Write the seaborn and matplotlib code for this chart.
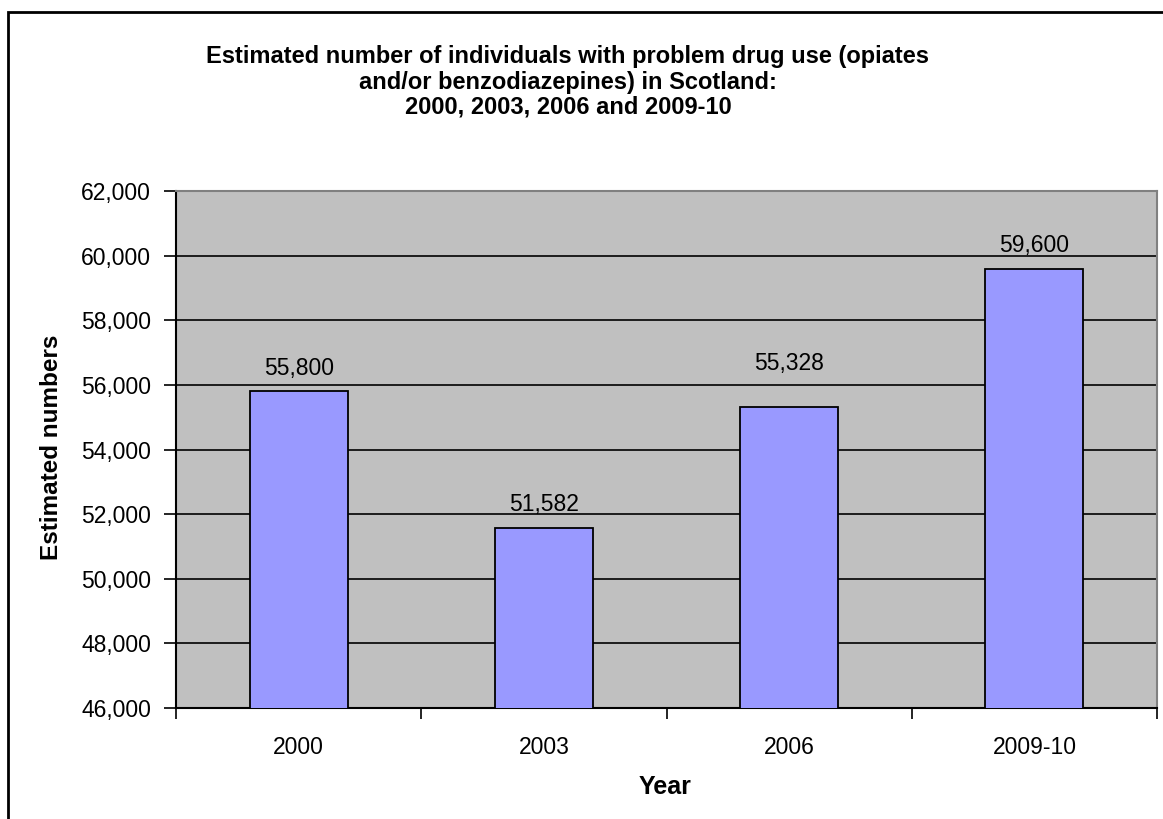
import matplotlib
matplotlib.use("Agg")
import matplotlib.pyplot as plt
import seaborn as sns
import pandas as pd
from matplotlib.patches import Rectangle
from matplotlib.ticker import FuncFormatter, FixedLocator

# ---- data ----
years = ["2000", "2003", "2006", "2009-10"]
estimates = [55800, 51582, 55328, 59600]
y_ticks = [46000, 48000, 50000, 52000, 54000, 56000, 58000, 60000, 62000]
label_offsets_pt = [12, 12, 26, 12]

title = ("Estimated number of individuals with problem drug use (opiates\n"
         "and/or benzodiazepines) in Scotland:\n"
         "2000, 2003, 2006 and 2009-10")

sns.set_style("white")
plt.rcParams["font.family"] = ["Liberation Sans", "DejaVu Sans"]
plt.rcParams["text.color"] = "black"
plt.rcParams["axes.labelcolor"] = "black"
plt.rcParams["xtick.color"] = "black"
plt.rcParams["ytick.color"] = "black"

W, H = 1163, 819
fig = plt.figure(figsize=(W / 100, H / 100), dpi=100)
ax = fig.add_axes([176 / W, 1 - 708 / H, (1157 - 176) / W, (708 - 191) / H])

df = pd.DataFrame({"Year": years, "Estimate": estimates})
sns.barplot(data=df, x="Year", y="Estimate", color="#9999FF", edgecolor="black",
            linewidth=1.3, width=0.4, saturation=1, ax=ax, zorder=3)

ax.set_facecolor("#C0C0C0")
ax.set_ylim(y_ticks[0], y_ticks[-1])
ax.set_xlim(-0.5, len(years) - 0.5)
ax.yaxis.set_major_locator(FixedLocator(y_ticks))
ax.yaxis.set_major_formatter(FuncFormatter(lambda v, p: f"{int(v):,}"))
ax.grid(axis="y", color="black", linewidth=1.2, zorder=0)
ax.set_axisbelow(True)

for s in ["left", "bottom"]:
    ax.spines[s].set_color("black")
    ax.spines[s].set_linewidth(1.5)
for s in ["top", "right"]:
    ax.spines[s].set_color("#808080")
    ax.spines[s].set_linewidth(1.5)

ax.tick_params(axis="y", which="major", length=9, width=1.2, color="black",
               labelsize=16.5, pad=9, left=True, labelcolor="black")
ax.tick_params(axis="x", which="major", length=0, labelsize=16.5, pad=20,
               labelcolor="black")
ax.set_xticks([i - 0.5 for i in range(len(years) + 1)], minor=True)
ax.tick_params(axis="x", which="minor", length=8, width=1.2, color="black", bottom=True)

ax.set_xlabel("")
ax.set_ylabel("")

for i, (v, off) in enumerate(zip(estimates, label_offsets_pt)):
    ax.annotate(f"{v:,}", xy=(i, v), xytext=(0, off), textcoords="offset points",
                ha="center", va="baseline", fontsize=16.5, color="black", zorder=5)

fig.text(568 / W, 1 - 82 / H, title, ha="center", va="center", fontsize=17,
         fontweight="bold", linespacing=1.12, color="black")
fig.text(51.5 / W, 1 - 447 / H, "Estimated numbers", rotation=90, ha="center",
         va="center", fontsize=17.5, fontweight="bold", color="black")
fig.text(665 / W, 1 - 787 / H, "Year", ha="center", va="center", fontsize=18,
         fontweight="bold", color="black")

fig.patches.append(Rectangle((8 / W, -0.1), 1.2, 1.1 - 12 / H, transform=fig.transFigure,
                             fill=False, edgecolor="black", linewidth=2, clip_on=False))

fig.savefig("out.png", dpi=100)
